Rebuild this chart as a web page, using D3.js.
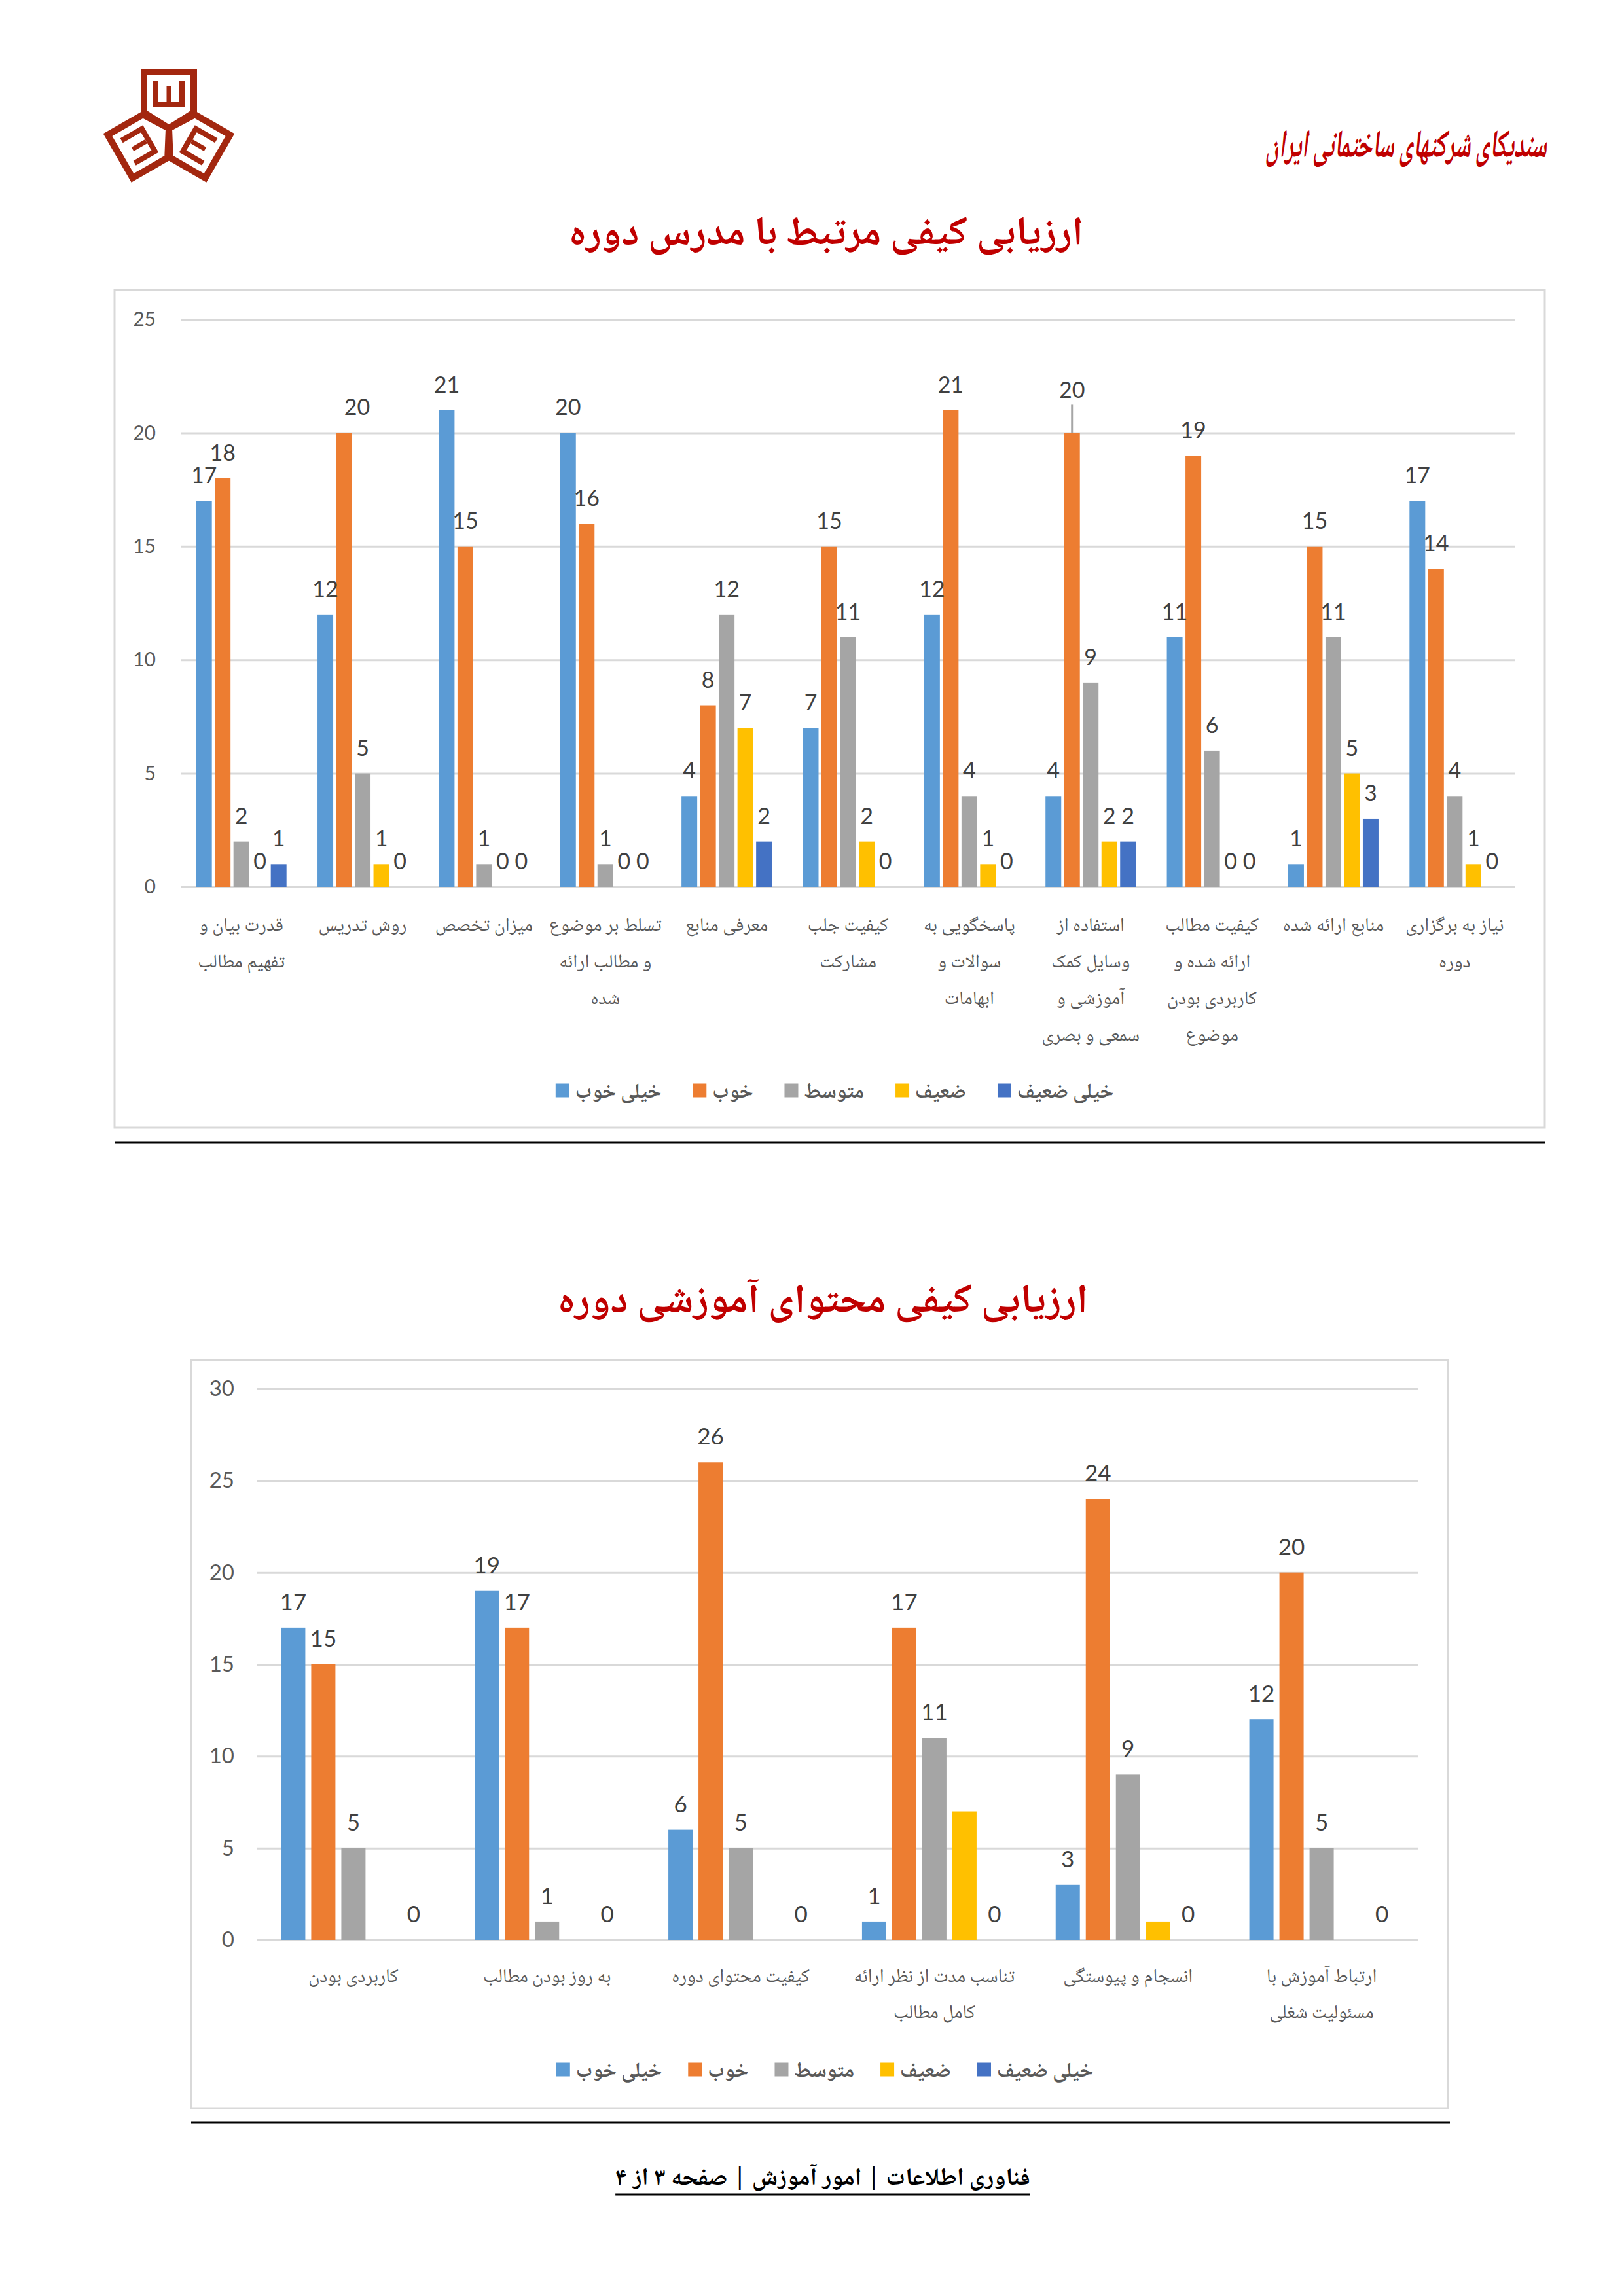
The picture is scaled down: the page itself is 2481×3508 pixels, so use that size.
<!DOCTYPE html>
<html><head><meta charset="utf-8">
<script src="https://cdn.jsdelivr.net/npm/d3@7"></script>
<style>
html,body{margin:0;padding:0;background:#fff;}
svg{display:block;}
</style></head><body>
<svg id="page" width="2481" height="3508"></svg>
<script>
// ---------- DATA ----------
const seriesNames = ["خیلی خوب", "خوب", "متوسط", "ضعیف", "خیلی ضعیف"];

const teacherTitle = "ارزیابی کیفی مرتبط با مدرس دوره";
const teacherCategories = [
  ["قدرت بیان و", "تفهیم مطالب"],
  ["روش تدریس"],
  ["میزان تخصص"],
  ["تسلط بر موضوع", "و مطالب ارائه", "شده"],
  ["معرفی منابع"],
  ["کیفیت جلب", "مشارکت"],
  ["پاسخگویی به", "سوالات و", "ابهامات"],
  ["استفاده از", "وسایل کمک", "آموزشی و", "سمعی و بصری"],
  ["کیفیت مطالب", "ارائه شده و", "کاربردی بودن", "موضوع"],
  ["منابع ارائه شده"],
  ["نیاز به برگزاری", "دوره"]
];
const teacherVeryGood = [17, 12, 21, 20, 4, 7, 12, 4, 11, 1, 17];
const teacherGood     = [18, 20, 15, 16, 8, 15, 21, 20, 19, 15, 14];
const teacherAverage  = [2, 5, 1, 1, 12, 11, 4, 9, 6, 11, 4];
const teacherWeak     = [0, 1, 0, 0, 7, 2, 1, 2, 0, 5, 1];
const teacherVeryWeak = [1, 0, 0, 0, 2, 0, 0, 2, 0, 3, 0];
const teacherTicks    = [0, 5, 10, 15, 20, 25];

const contentTitle = "ارزیابی کیفی محتوای آموزشی دوره";
const contentCategories = [
  ["کاربردی بودن"],
  ["به روز بودن مطالب"],
  ["کیفیت محتوای دوره"],
  ["تناسب مدت از نظر ارائه", "کامل مطالب"],
  ["انسجام و پیوستگی"],
  ["ارتباط آموزش با", "مسئولیت شغلی"]
];
const contentVeryGood = [17, 19, 6, 1, 3, 12];
const contentGood     = [15, 17, 26, 17, 24, 20];
const contentAverage  = [5, 1, 5, 11, 9, 5];
const contentWeak     = [null, null, null, 7, 1, null];
const contentVeryWeak = [0, 0, 0, 0, 0, 0];
const contentTicks    = [0, 5, 10, 15, 20, 25, 30];

const headerText = "سندیکای شرکتهای ساختمانی ایران";
const footerText = "فناوری اطلاعات  |  امور آموزش  |  صفحه ۳ از ۴";

// ---------- STYLE ----------
const seriesColors = ["#5B9BD5", "#ED7D31", "#A5A5A5", "#FFC000", "#4472C4"];
const FA = "'Noto Naskh Arabic','Noto Sans Arabic','DejaVu Sans',sans-serif";
const NUM = "Lato,'Open Sans','Liberation Sans',sans-serif";
const RED = "#C00000";

const svg = d3.select("#page");
svg.append("rect").attr("width", 2481).attr("height", 3508).attr("fill", "#fff");

// ---------- LOGO ----------
(function drawLogo() {
  const logo = svg.append("g").attr("transform", "translate(258,196)");
  const col = "#A3270F";
  [0, 120, 240].forEach(a => {
    const arm = logo.append("g").attr("transform", `rotate(${a})`);
    arm.append("path")
      .attr("d", "M-38,-24 L-38,-86 L38,-86 L38,-24 L0,0 Z")
      .attr("fill", "none").attr("stroke", col).attr("stroke-width", 10).attr("stroke-linejoin", "miter");
    arm.append("path")
      .attr("d", "M-20,-72 L-20,-36 L20,-36 L20,-72")
      .attr("fill", "none").attr("stroke", col).attr("stroke-width", 8);
    arm.append("path")
      .attr("d", "M0,-64 L0,-40")
      .attr("fill", "none").attr("stroke", col).attr("stroke-width", 7);
  });
})();

// ---------- HEADER TEXT ----------
const hg = svg.append("g");
const ht = hg.append("text")
  .attr("x", 0).attr("y", 0)
  .attr("text-anchor", "end")
  .attr("font-family", FA).attr("font-style", "italic").attr("font-weight", "bold")
  .attr("font-size", 60).attr("fill", RED)
  .text(headerText);
const hLen = ht.node().getComputedTextLength();
hg.attr("transform", `translate(2363,240) scale(${Math.min(1, 430 / hLen)},1)`);

// ---------- CHART FUNCTION ----------
function drawChart(cfg) {
  const g = svg.append("g");
  // title
  g.append("text")
    .attr("x", cfg.titleX).attr("y", cfg.titleY).attr("dy", "0.35em")
    .attr("text-anchor", "middle")
    .attr("font-family", FA).attr("font-weight", "bold").attr("font-size", cfg.titleSize)
    .attr("fill", RED).text(cfg.title);

  // frame
  const [fx0, fy0, fx1, fy1] = cfg.frame;
  g.append("rect").attr("x", fx0).attr("y", fy0).attr("width", fx1 - fx0).attr("height", fy1 - fy0)
    .attr("fill", "#fff").attr("stroke", "#D9D9D9").attr("stroke-width", 3);

  // separator line under chart
  g.append("line").attr("x1", cfg.sep[0]).attr("x2", cfg.sep[1]).attr("y1", cfg.sep[2]).attr("y2", cfg.sep[2])
    .attr("stroke", "#000").attr("stroke-width", 3);

  const n = cfg.categories.length;
  const x0 = d3.scaleBand().domain(d3.range(n)).range([cfg.plotX0, cfg.plotX1]).paddingInner(0).paddingOuter(0);
  const x1 = d3.scaleBand().domain(d3.range(cfg.series.length))
    .range([-cfg.groupWidth / 2, cfg.groupWidth / 2]).paddingInner(cfg.barPad).paddingOuter(0);
  const y = d3.scaleLinear().domain([0, cfg.yMax]).range([cfg.yZero, cfg.yTop]);

  // gridlines + y labels
  const axis = d3.axisLeft(y).tickValues(cfg.ticks).tickSize(-(cfg.plotX1 - cfg.plotX0)).tickPadding(cfg.tickPad);
  const ag = g.append("g").attr("transform", `translate(${cfg.plotX0},0)`).call(axis);
  ag.select(".domain").remove();
  ag.selectAll(".tick line").attr("stroke", "#D9D9D9").attr("stroke-width", 3);
  ag.selectAll(".tick text").attr("fill", "#595959").attr("font-family", NUM).attr("font-size", cfg.tickSize);

  // bars
  cfg.series.forEach((vals, s) => {
    const sg = g.append("g");
    vals.forEach((v, i) => {
      if (v === null) return;
      const bx = x0(i) + x0.bandwidth() / 2 + x1(s);
      sg.append("rect")
        .attr("x", bx).attr("width", x1.bandwidth())
        .attr("y", y(v)).attr("height", y(0) - y(v))
        .attr("fill", seriesColors[s]);
    });
  });

  // data labels
  cfg.series.forEach((vals, s) => {
    if (!cfg.labelSeries[s]) return;
    vals.forEach((v, i) => {
      if (v === null) return;
      const cx = x0(i) + x0.bandwidth() / 2 + x1(s) + x1.bandwidth() / 2;
      const nudge = (cfg.nudges || []).find(d => d.s === s && d.i === i) || {};
      const dx = nudge.dx || 0, lift = nudge.lift || 0;
      if (nudge.leader) {
        g.append("line").attr("x1", cx).attr("x2", cx)
          .attr("y1", y(v)).attr("y2", y(v) - lift - cfg.labelGap + 10)
          .attr("stroke", "#A6A6A6").attr("stroke-width", 3);
      }
      g.append("text")
        .attr("x", cx + dx).attr("y", y(v) - cfg.labelGap - lift)
        .attr("text-anchor", "middle")
        .attr("font-family", NUM).attr("font-size", cfg.labelSize).attr("fill", "#404040")
        .text(v);
    });
  });

  // category labels
  cfg.categories.forEach((lines, i) => {
    const cx = x0(i) + x0.bandwidth() / 2;
    lines.forEach((ln, k) => {
      g.append("text")
        .attr("x", cx).attr("y", cfg.catY + k * cfg.catLine).attr("dy", "0.35em")
        .attr("text-anchor", "middle")
        .attr("font-family", FA).attr("font-size", cfg.catSize).attr("fill", "#595959")
        .text(ln);
    });
  });

  // legend
  const lg = g.append("g");
  const items = seriesNames.map((name, s) => {
    const it = lg.append("g");
    it.append("rect").attr("x", 0).attr("y", -cfg.sw / 2).attr("width", cfg.sw).attr("height", cfg.sw)
      .attr("fill", seriesColors[s]);
    const t = it.append("text").attr("x", cfg.sw + 9).attr("y", 0).attr("dy", "0.35em")
      .attr("text-anchor", "start")
      .attr("font-family", FA).attr("font-size", cfg.legendSize).attr("font-weight", "bold").attr("fill", "#595959")
      .text(name);
    const w = cfg.sw + 9 + t.node().getComputedTextLength();
    return { it, w };
  });
  const gap = cfg.legendGap;
  const total = d3.sum(items, d => d.w) + gap * (items.length - 1);
  let xpos = cfg.legendCx - total / 2;
  items.forEach(d => {
    d.it.attr("transform", `translate(${xpos},${cfg.legendY})`);
    xpos += d.w + gap;
  });
}

// ---------- CHART 1 ----------
drawChart({
  title: teacherTitle, titleX: 1262, titleY: 352, titleSize: 62,
  frame: [175, 443, 2360, 1723],
  sep: [175, 2360, 1746],
  categories: teacherCategories,
  series: [teacherVeryGood, teacherGood, teacherAverage, teacherWeak, teacherVeryWeak],
  labelSeries: [true, true, true, true, true],
  nudges: [{ s: 1, i: 7, lift: 26, leader: true }, { s: 1, i: 1, dx: 20 }],
  plotX0: 276, plotX1: 2315, yZero: 1355, yTop: 488, yMax: 25, ticks: teacherTicks,
  tickPad: 38, tickSize: 30,
  groupWidth: 138, barPad: 0.158,
  labelGap: 27, labelSize: 34,
  catY: 1412, catLine: 56, catSize: 29,
  legendCx: 1275, legendY: 1666, sw: 21, legendSize: 32, legendGap: 48
});

// ---------- CHART 2 ----------
drawChart({
  title: contentTitle, titleX: 1257, titleY: 1983, titleSize: 62,
  frame: [292, 2078, 2212, 3221],
  sep: [292, 2215, 3243],
  categories: contentCategories,
  series: [contentVeryGood, contentGood, contentAverage, contentWeak, contentVeryWeak],
  labelSeries: [true, true, true, false, true],
  plotX0: 392, plotX1: 2167, yZero: 2964, yTop: 2122, yMax: 30, ticks: contentTicks,
  tickPad: 34, tickSize: 33,
  groupWidth: 221, barPad: 0.196,
  labelGap: 27, labelSize: 35,
  catY: 3018, catLine: 55, catSize: 29,
  legendCx: 1260, legendY: 3162, sw: 21, legendSize: 32, legendGap: 40
});

// ---------- FOOTER ----------
const ft = svg.append("text")
  .attr("x", 1257).attr("y", 3325).attr("dy", "0.35em")
  .attr("text-anchor", "middle")
  .attr("font-family", FA).attr("font-weight", "bold").attr("font-size", 37).attr("fill", "#000")
  .text(footerText);
const fb = ft.node().getBBox();
svg.append("line").attr("x1", fb.x).attr("x2", fb.x + fb.width).attr("y1", 3353).attr("y2", 3353)
  .attr("stroke", "#000").attr("stroke-width", 3);
</script></body></html>
